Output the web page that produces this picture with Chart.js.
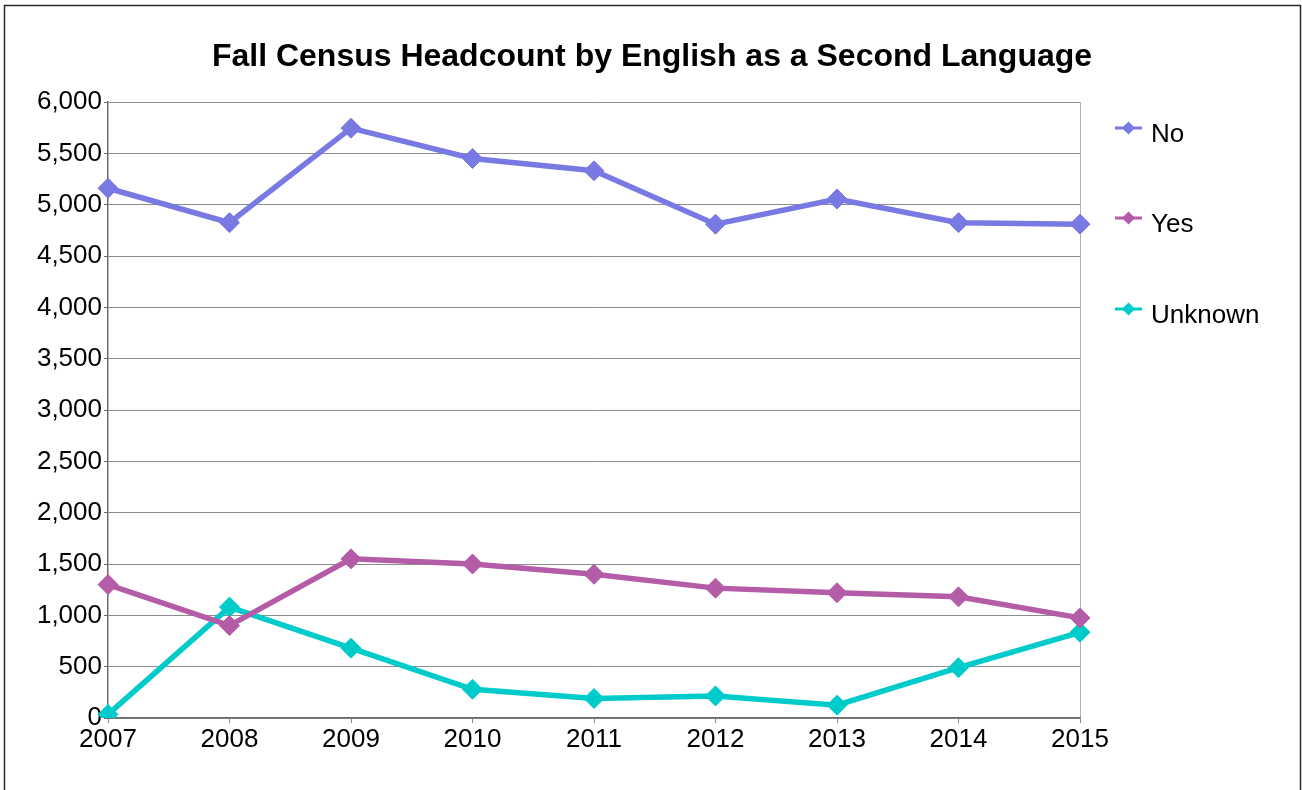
<!DOCTYPE html>
<html>
<head>
<meta charset="utf-8">
<title>Fall Census Headcount by English as a Second Language</title>
<script src="https://cdn.jsdelivr.net/npm/chart.js@4.4.1/dist/chart.umd.min.js"></script>
<style>
  html, body { margin: 0; padding: 0; background: #fff; }
  canvas { display: block; }
</style>
</head>
<body>
<canvas id="censusChart" width="1302" height="790"></canvas>
<script>
// values
const years = ['2007', '2008', '2009', '2010', '2011', '2012', '2013', '2014', '2015'];
const noValues = [5160, 4825, 5745, 5450, 5330, 4810, 5055, 4825, 4810];
const yesValues = [1300, 900, 1550, 1500, 1400, 1265, 1220, 1180, 975];
const unknownValues = [35, 1080, 680, 280, 190, 215, 125, 490, 835];
const seriesNames = ['No', 'Yes', 'Unknown'];
const seriesColors = ['#7979e3', '#b45ca7', '#00cbcb'];
const chartTitle = 'Fall Census Headcount by English as a Second Language';

const fontFamily = '"Liberation Sans", Arial, sans-serif';

// white page, thin frame, title centred on the whole page
const framePlugin = {
    id: 'frame',
    beforeDraw(chart) {
        const c = chart.ctx;
        c.save();
        c.fillStyle = '#fff';
        c.fillRect(0, 0, chart.width, chart.height);
        c.strokeStyle = '#2a2a2a';
        c.lineWidth = 1.5;
        c.strokeRect(4.5, 5.5, 1296, 800);
        c.fillStyle = '#000';
        c.font = 'bold 32px ' + fontFamily;
        c.textAlign = 'center';
        c.textBaseline = 'middle';
        c.fillText(chartTitle, 652, 57);
        c.restore();
    }
};

// legend on the right: short line with a diamond, then the name
const sideLegend = {
    id: 'sideLegend',
    afterDraw(chart) {
        const c = chart.ctx;
        const rows = [128, 218, 309];
        c.save();
        chart.data.datasets.forEach((ds, i) => {
            const y = rows[i];
            c.strokeStyle = ds.borderColor;
            c.lineWidth = 3;
            c.beginPath();
            c.moveTo(1115, y);
            c.lineTo(1142, y);
            c.stroke();
            c.fillStyle = ds.borderColor;
            c.beginPath();
            c.moveTo(1128.5, y - 6.5);
            c.lineTo(1135, y);
            c.lineTo(1128.5, y + 6.5);
            c.lineTo(1122, y);
            c.closePath();
            c.fill();
            c.fillStyle = '#000';
            c.font = '26px ' + fontFamily;
            c.textBaseline = 'middle';
            c.textAlign = 'left';
            c.fillText(ds.label, 1151, y + 7);
        });
        c.restore();
    }
};

function makeDataset(name, values, color) {
    return {
        label: name,
        data: values,
        borderColor: color,
        backgroundColor: color,
        borderWidth: 5.5,
        pointStyle: 'rectRot',
        pointRadius: 10,
        pointHoverRadius: 10,
        pointBorderWidth: 1,
        pointBackgroundColor: color,
        pointBorderColor: color,
        tension: 0,
        fill: false
    };
}

const ctx = document.getElementById('censusChart').getContext('2d');
const censusChart = new Chart(ctx, {
    type: 'line',
    data: {
        labels: years,
        datasets: [
            makeDataset(seriesNames[0], noValues, seriesColors[0]),
            makeDataset(seriesNames[1], yesValues, seriesColors[1]),
            makeDataset(seriesNames[2], unknownValues, seriesColors[2])
        ]
    },
    options: {
        responsive: false,
        animation: false,
        devicePixelRatio: 1,
        layout: {
            padding: { left: 0, right: 222, top: 102, bottom: 0 }
        },
        plugins: {
            legend: { display: false },
            tooltip: { enabled: false },
            title: { display: false }
        },
        scales: {
            x: {
                offset: false,
                afterFit(scale) { scale.height = 72; },
                grid: {
                    color: (c) => c.index === years.length - 1 ? '#b0b0b0' : 'rgba(0,0,0,0)',
                    tickColor: '#8a8a8a',
                    tickLength: 5,
                    lineWidth: 1
                },
                border: { display: true, color: '#6b6b6b', width: 1.5 },
                ticks: {
                    color: '#000',
                    padding: 1,
                    maxRotation: 0,
                    autoSkip: false,
                    font: { family: fontFamily, size: 26 }
                }
            },
            y: {
                min: 0,
                max: 6000,
                afterFit(scale) { scale.width = 108; },
                grid: {
                    color: '#8c8c8c',
                    tickColor: '#6b6b6b',
                    tickLength: 4,
                    lineWidth: 1
                },
                border: { display: true, color: '#6b6b6b', width: 1.5 },
                ticks: {
                    stepSize: 500,
                    color: '#000',
                    padding: 2,
                    font: { family: fontFamily, size: 26 },
                    callback: (v) => v.toLocaleString('en-US')
                }
            }
        }
    },
    plugins: [framePlugin, sideLegend]
});
</script>
</body>
</html>
